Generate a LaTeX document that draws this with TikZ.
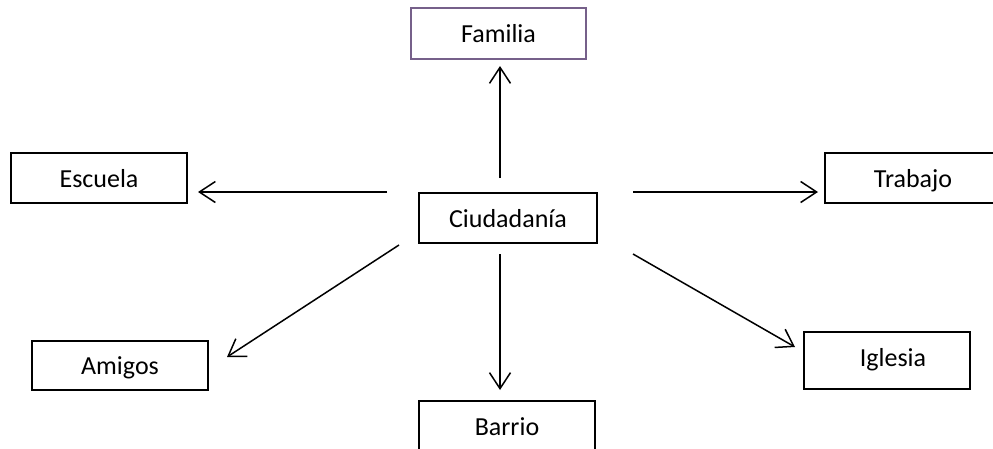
\documentclass[tikz,border=0pt]{standalone}
\usepackage{fontspec}
\setmainfont{Carlito}
\usetikzlibrary{arrows.meta}
\definecolor{boxpurple}{RGB}{118,96,138}
\tikzset{
  labelfont/.style={font=\fontsize{26}{31}\selectfont, text height=18.7pt, text depth=0pt},
  box/.style={draw=black, line width=1.2pt, fill=white, inner sep=0pt, labelfont},
  link/.style={line width=1.5pt, -{Straight Barb[length=16pt,width=21pt,line width=1.5pt]}}
}
\begin{document}
\begin{tikzpicture}[x=1pt,y=-1pt]
\useasboundingbox (0,0) rectangle (993,448);
% boxes
\node[box, minimum width=178pt, minimum height=50pt] (ciu) at (508,218) {Ciudadanía};
\node[box, draw=boxpurple, minimum width=175pt, minimum height=51pt] (fam) at (498.5,33.5) {Familia};
\node[box, minimum width=176pt, minimum height=50pt] (esc) at (99,178) {Escuela};
\node[box, minimum width=176pt, minimum height=50pt] (tra) at (913,178) {Trabajo};
\node[box, minimum width=176pt, minimum height=49pt] (ami) at (120,365.5) {Amigos};
\node[box, minimum width=166pt, minimum height=57pt] (igl) at (887,360.5) {};
\node[labelfont, inner sep=0pt] (igltext) at ([xshift=6pt,yshift=3.5pt]igl.center) {Iglesia};
\node[box, minimum width=176pt, minimum height=50pt] (bar) at (507,426) {Barrio};
% arrow end points
\coordinate (famS) at (500,178);  \coordinate (famE) at (500,66);
\coordinate (escS) at (387,192);  \coordinate (escE) at (198,192);
\coordinate (traS) at (633,192);  \coordinate (traE) at (818,192);
\coordinate (amiS) at (399,245);  \coordinate (amiE) at (227,357);
\coordinate (barS) at (500,254);  \coordinate (barE) at (500,390);
\coordinate (iglS) at (633,254);  \coordinate (iglE) at (795,347);
% connectors
\draw[link] (famS) -- (famE);
\draw[link] (escS) -- (escE);
\draw[link] (traS) -- (traE);
\draw[link] (amiS) -- (amiE);
\draw[link] (barS) -- (barE);
\draw[link] (iglS) -- (iglE);
\end{tikzpicture}
\end{document}
